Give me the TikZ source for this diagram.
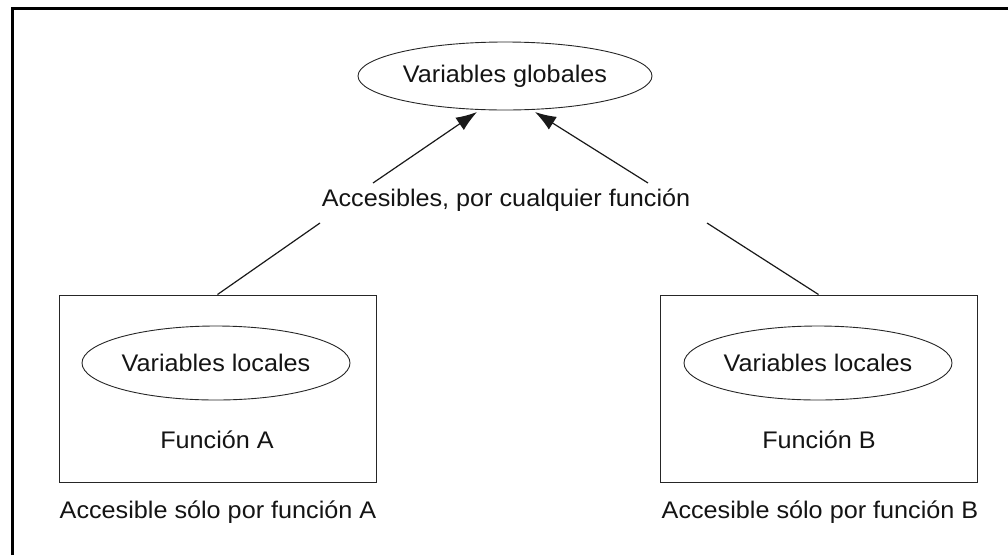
\documentclass[tikz,border=0pt]{standalone}
\usepackage{fontspec}
\setmainfont[FakeStretch=1.05]{Liberation Sans}
\usetikzlibrary{shapes.geometric,arrows.meta}
\begin{document}
\begin{tikzpicture}[x=1pt,y=-1pt,
  txt/.style={font=\fontsize{24}{28}\selectfont, text=black!92, inner sep=1pt},
  ell/.style={ellipse, draw=black!85, line width=0.9pt, inner sep=0pt, font=\fontsize{24}{28}\selectfont, text=black!92},
  fbox/.style={rectangle, draw=black!85, line width=1pt, inner sep=0pt},
  conn/.style={line width=1.2pt, draw=black!90},
  arr/.style={line width=1.2pt, draw=black!90, -{Latex[length=21pt,width=15pt]}}]
\useasboundingbox (0,0) rectangle (1008,555);
% outer frame (cropped at right and bottom)
\draw[line width=3pt] (12.5,555) -- (12.5,8.5) -- (1008,8.5);
% nodes
\node[ell, minimum width=294, minimum height=68] (glob) at (505,76) {Variables globales};
\node[txt] (acc) at (506,200) {Accesibles, por cualquier función};
\node[fbox, minimum width=317, minimum height=187] (boxA) at (217.5,388.5) {};
\node[fbox, minimum width=317, minimum height=187] (boxB) at (818.5,388.5) {};
\node[ell, minimum width=268, minimum height=74] (ellA) at (216,363) {Variables locales};
\node[ell, minimum width=268, minimum height=74] (ellB) at (818,363) {Variables locales};
\node[txt] (funA) at (217,440) {Función A};
\node[txt] (funB) at (819,440) {Función B};
\node[txt] (labA) at (218,512) {Accesible sólo por función A};
\node[txt] (labB) at (820,512) {Accesible sólo por función B};
% connector end points
\coordinate (lA) at (320,223);
\coordinate (lB) at (707,223);
\coordinate (aA) at (373,183);
\coordinate (aB) at (648,183);
\coordinate (tA) at (477,112);
\coordinate (tB) at (535,112);
\draw[conn] (boxA.north) -- (lA);
\draw[conn] (boxB.north) -- (lB);
\draw[arr] (aA) -- (tA);
\draw[arr] (aB) -- (tB);
\end{tikzpicture}
\end{document}
